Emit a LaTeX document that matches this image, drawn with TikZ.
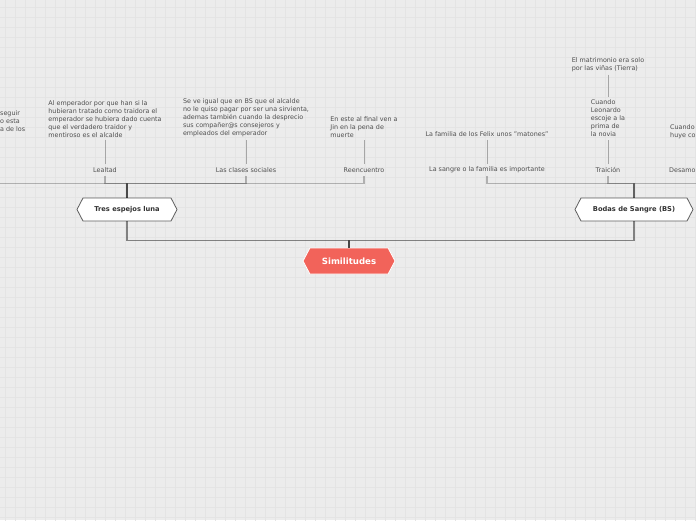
\documentclass[tikz,border=0pt]{standalone}
\usepackage{fontspec}
\setmainfont{DejaVu Sans}
\usetikzlibrary{shapes.symbols, positioning}
\definecolor{SimRed}{HTML}{F2635A}
\definecolor{BgGray}{HTML}{ECECEC}
\definecolor{GridGray}{HTML}{E4E4E4}
\definecolor{LineDark}{HTML}{5E5E5E}
\definecolor{TextGray}{HTML}{4F4F4F}

\begin{document}
\begin{tikzpicture}[x=1pt, y=-1pt,
  node distance=24pt,
  central/.style={signal, signal to=east and west, signal pointer angle=124,
    fill=SimRed, draw=white, thick, text=white, minimum width=92pt, minimum height=26pt,
    inner xsep=2pt, font=\fontsize{8.6}{10}\selectfont\bfseries},
  topic/.style={signal, signal to=east and west, signal pointer angle=125,
    fill=white, draw=LineDark, thick, text=black!80, minimum height=23pt,
    inner xsep=2pt, font=\fontsize{6.7}{8}\selectfont\bfseries},
  subtopic/.style={font=\fontsize{6.4}{8}\selectfont, text=TextGray, inner sep=3pt},
  note/.style={font=\fontsize{6.4}{8}\selectfont, text=TextGray, align=left, inner sep=3pt},
  main/.style={draw=black, draw opacity=0.45, line width=1.1pt},
  branch/.style={draw=black, draw opacity=0.25, line width=1.1pt},
  twig/.style={draw=black!35, line width=0.8pt}
]
% fondo
\useasboundingbox (0,0) rectangle (696,520);
\clip (0,0) rectangle (696,520);
\fill[BgGray] (0,0) rectangle (696,520);
\begin{scope}[shift={(5.3,7)}]
  \draw[GridGray, line width=0.5pt, step=10pt] (-10,-10) grid (700,520);
\end{scope}

% nodos principales
\node[central] (sim) at (349,261) {Similitudes};
\node[topic, minimum width=100pt] (tres) at (127,209.5) {Tres espejos luna};
\node[topic, minimum width=118pt] (bodas) at (634,209.5) {Bodas de Sangre (BS)};

% Tres espejos luna
\node[subtopic] (lealtad) at (105,170) {Lealtad};
\node[subtopic] (clases) at (246,170) {Las clases sociales};
\node[subtopic] (reencuentro) at (364,170) {Reencuentro};
\coordinate (offleft) at (-20,177);

\node[note, above=of lealtad] (lealtadnote)
  {Al emperador por que han si la\\hubieran tratado como traidora el\\emperador se hubiera dado cuenta\\que el verdadero traidor y\\mentiroso es el alcalde};
\node[note, above=of clases] (clasesnote)
  {Se ve igual que en BS que el alcalde\\no le quiso pagar por ser una sirvienta,\\ademas también cuando la desprecio\\sus compañer@s consejeros y\\empleados del emperador};
\node[note, above=of reencuentro] (reencuentronote)
  {En este al final ven a\\Jin en la pena de\\muerte};
\node[note, anchor=south west] (offleftnote) at (-3,135) {seguir\\o esta\\a de los};

% Bodas de Sangre
\node[subtopic] (sangre) at (487,170) {La sangre o la familia es importante};
\node[subtopic] (traicion) at (608,170) {Traición};
\node[subtopic, anchor=west] (desamor) at (666,170) {Desamo};
\coordinate (offright) at (720,177);

\node[note, above=of sangre] (sangrenote) {La familia de los Felix unos "matones"};
\node[note, above=of traicion] (traicionnote)
  {Cuando\\Leonardo\\escoje a la\\prima de\\la novia};
\node[note, above=22pt of traicionnote] (tierranote)
  {El matrimonio era solo\\por las viñas (Tierra)};
\node[note, anchor=south west] (desamornote) at (667,142) {Cuando\\huye co};

% conectores
\draw[main] (sim.north) -- ++(0,-7) -| (tres.south);
\draw[main] (sim.north) -- ++(0,-7) -| (bodas.south);

\draw[branch] (tres.north) -- ++(0,-14) -| (lealtad.south);
\draw[branch] (tres.north) -- ++(0,-14) -| (clases.south);
\draw[branch] (tres.north) -- ++(0,-14) -| (reencuentro.south);
\draw[branch] (tres.north) -- ++(0,-14) -| (offleft);
\draw[branch] (bodas.north) -- ++(0,-14) -| (sangre.south);
\draw[branch] (bodas.north) -- ++(0,-14) -| (traicion.south);
\draw[branch] (bodas.north) -- ++(0,-14) -| (offright);

\draw[twig] (lealtadnote) -- (lealtad);
\draw[twig] (clasesnote) -- (clases);
\draw[twig] (reencuentronote) -- (reencuentro);
\draw[twig] (sangrenote) -- (sangre);
\draw[twig] (traicionnote) -- (traicion);
\draw[twig] (tierranote) -- (traicionnote);
\end{tikzpicture}
\end{document}
